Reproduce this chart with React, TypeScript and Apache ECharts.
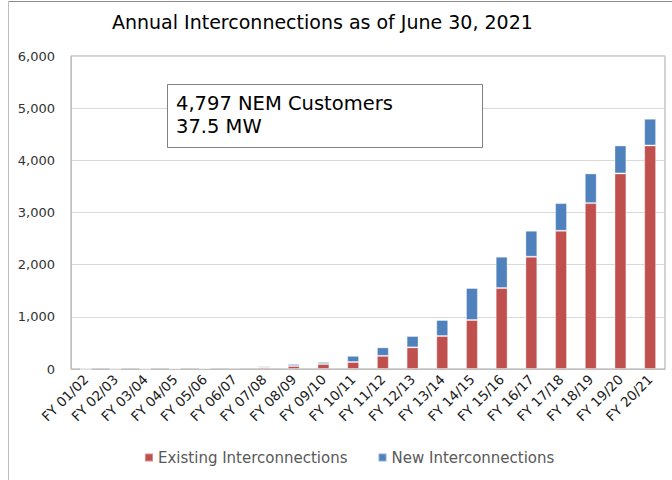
import React, { useEffect, useRef } from "react";
import * as echarts from "echarts";

const categories = [
  "FY 01/02", "FY 02/03", "FY 03/04", "FY 04/05", "FY 05/06", "FY 06/07", "FY 07/08",
  "FY 08/09", "FY 09/10", "FY 10/11", "FY 11/12", "FY 12/13", "FY 13/14", "FY 14/15",
  "FY 15/16", "FY 16/17", "FY 17/18", "FY 18/19", "FY 19/20", "FY 20/21",
];
const existingInterconnections = [
  0, 2, 4, 10, 17, 24, 32, 57, 96, 134, 252, 415, 632, 939, 1552, 2152, 2650, 3180, 3749, 4285,
];
const newInterconnections = [
  2, 2, 6, 7, 7, 8, 25, 39, 38, 118, 163, 217, 307, 613, 600, 498, 530, 569, 536, 512,
];
const yTicks = [0, 1000, 2000, 3000, 4000, 5000, 6000];
const titleText = "Annual Interconnections as of June 30, 2021";
const noteLines = ["4,797 NEM Customers", "37.5 MW"];

const FONT = "DejaVu Sans";

export default function App() {
  const ref = useRef<HTMLDivElement>(null);
  useEffect(() => {
    if (!ref.current) return;
    const chart = echarts.init(ref.current, null, { renderer: "svg" });
    chart.setOption({
      animation: false,
      backgroundColor: "#ffffff",
      title: {
        text: titleText,
        left: 107,
        top: 7,
        textStyle: { fontFamily: FONT, fontSize: 19, fontWeight: "normal", color: "#000000" },
      },
      legend: {
        bottom: 10,
        left: 139,
        itemWidth: 8,
        itemHeight: 8,
        itemGap: 30,
        icon: "rect",
        textStyle: { fontFamily: FONT, fontSize: 15, color: "#595959" },
        data: ["Existing Interconnections", "New Interconnections"],
      },
      grid: {
        left: 71,
        top: 56,
        right: 7,
        bottom: 111,
        show: true,
        borderColor: "#a6a6a6",
        borderWidth: 1,
      },
      xAxis: {
        type: "category",
        data: categories,
        axisLine: { lineStyle: { color: "#bfbfbf" } },
        axisTick: { show: false },
        axisLabel: {
          rotate: 45,
          interval: 0,
          margin: 8,
          fontFamily: FONT,
          fontSize: 13.5,
          color: "#1a1a1a",
        },
      },
      yAxis: {
        type: "value",
        min: yTicks[0],
        max: yTicks[yTicks.length - 1],
        interval: 1000,
        axisLine: { show: true, lineStyle: { color: "#bfbfbf" } },
        axisTick: { show: false },
        splitLine: { lineStyle: { color: "#d9d9d9" } },
        axisLabel: {
          margin: 16,
          fontFamily: FONT,
          fontSize: 13,
          color: "#333333",
          formatter: (v: number) => v.toLocaleString("en-US"),
        },
      },
      series: [
        {
          name: "Existing Interconnections",
          type: "bar",
          stack: "total",
          barWidth: "40%",
          data: existingInterconnections,
          itemStyle: { color: "#c0504d", borderColor: "rgba(255,255,255,0.35)", borderWidth: 1 },
        },
        {
          name: "New Interconnections",
          type: "bar",
          stack: "total",
          barWidth: "40%",
          data: newInterconnections,
          itemStyle: { color: "#4f81bd", borderColor: "rgba(255,255,255,0.35)", borderWidth: 1 },
        },
      ],
      graphic: [
        { type: "line", shape: { x1: 8.5, y1: 1.5, x2: 672, y2: 1.5 }, style: { stroke: "#8c8c8c", lineWidth: 1 } },
        { type: "line", shape: { x1: 8.5, y1: 1.5, x2: 8.5, y2: 480 }, style: { stroke: "#bfbfbf", lineWidth: 1 } },
        {
          type: "rect",
          shape: { x: 167.5, y: 84.5, width: 315, height: 63 },
          style: { fill: "#ffffff", stroke: "#808080", lineWidth: 1 },
          z: 100,
        },
        {
          type: "text",
          x: 176,
          y: 92,
          z: 101,
          style: {
            text: noteLines.join("\n"),
            fontFamily: FONT,
            fontSize: 19.5,
            lineHeight: 23,
            fill: "#000000",
          },
        },
      ],
    });
    return () => chart.dispose();
  }, []);
  return (
    <div
      ref={ref}
      style={{ position: "fixed", left: 0, top: 0, width: 672, height: 480 }}
    />
  );
}
